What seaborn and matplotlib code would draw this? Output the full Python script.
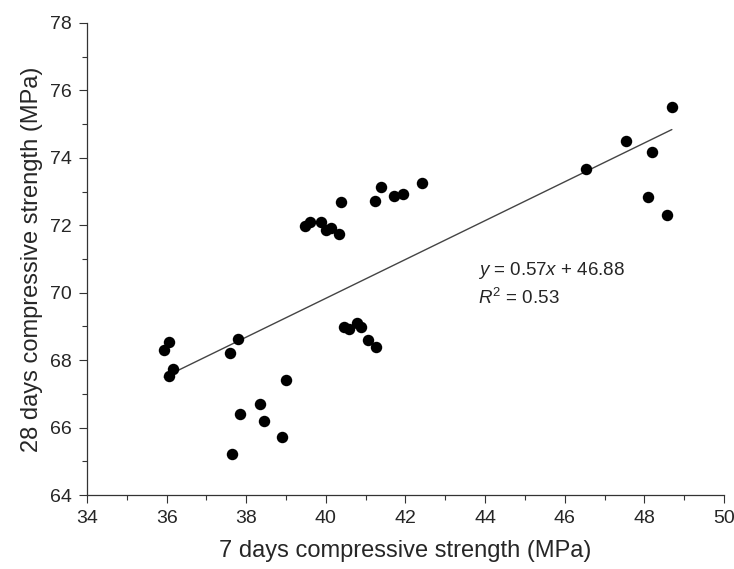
import numpy as np
import pandas as pd
import matplotlib
matplotlib.use("Agg")
import matplotlib.pyplot as plt
from matplotlib.ticker import MultipleLocator
import seaborn as sns

strength_7d = [36.06, 35.94, 36.17, 36.07, 37.79, 37.59, 37.84, 37.64, 38.35, 38.45, 38.90, 39.00,
               39.48, 39.59, 39.89, 40.00, 40.12, 40.34, 40.39, 41.23, 41.39, 41.72, 41.93, 42.42,
               40.46, 40.57, 40.79, 40.88, 41.07, 41.27,
               48.69, 47.54, 48.19, 46.54, 48.08, 48.58]
strength_28d = [68.54, 68.30, 67.75, 67.53, 68.64, 68.20, 66.39, 65.21, 66.70, 66.20, 65.72, 67.40,
                71.99, 72.09, 72.10, 71.86, 71.91, 71.74, 72.69, 72.73, 73.14, 72.88, 72.93, 73.24,
                68.99, 68.91, 69.09, 68.99, 68.61, 68.39,
                75.52, 74.51, 74.18, 73.67, 72.83, 72.32]
x_ticks = [34, 36, 38, 40, 42, 44, 46, 48, 50]
y_ticks = [64, 66, 68, 70, 72, 74, 76, 78]
eq_text = r"$y$ = 0.57$x$ + 46.88"
r2_text = r"$R^2$ = 0.53"

df = pd.DataFrame({"x": strength_7d, "y": strength_28d})

sns.set_style("ticks")
plt.rcParams["font.family"] = ["Liberation Sans", "DejaVu Sans"]
plt.rcParams["mathtext.fontset"] = "custom"
plt.rcParams["mathtext.rm"] = "Liberation Sans"
plt.rcParams["mathtext.it"] = "Liberation Sans:italic"

fig = plt.figure(figsize=(7.34, 5.69), dpi=100)
ax = fig.add_axes([0.1185, 0.130, 0.8679, 0.8296])

sns.regplot(data=df, x="x", y="y", ax=ax, scatter=False, ci=None, truncate=True,
            line_kws={"color": "#444444", "lw": 1.0})
sns.scatterplot(data=df, x="x", y="y", ax=ax, color="black", s=68, edgecolor="black",
                linewidth=0, zorder=3)

ax.set_xlim(34, 50)
ax.set_ylim(64, 78)
ax.set_xticks(x_ticks)
ax.set_yticks(y_ticks)
ax.xaxis.set_minor_locator(MultipleLocator(1))
ax.yaxis.set_minor_locator(MultipleLocator(1))
ax.tick_params(which="major", length=6, width=0.8, labelsize=14, color="#333333", pad=5)
ax.tick_params(which="minor", length=3.5, width=0.8, color="#333333")
for s in ["top", "right"]:
    ax.spines[s].set_visible(False)
for s in ["left", "bottom"]:
    ax.spines[s].set_linewidth(0.9)
    ax.spines[s].set_color("#333333")

ax.set_xlabel("7 days compressive strength (MPa)", fontsize=17, labelpad=9)
ax.set_ylabel("28 days compressive strength (MPa)", fontsize=17, labelpad=5)

ax.text(43.82, 70.65, eq_text, fontsize=13.5, va="center", ha="left")
ax.text(43.82, 69.85, r2_text, fontsize=13.5, va="center", ha="left")

fig.savefig("out.png", dpi=100)
